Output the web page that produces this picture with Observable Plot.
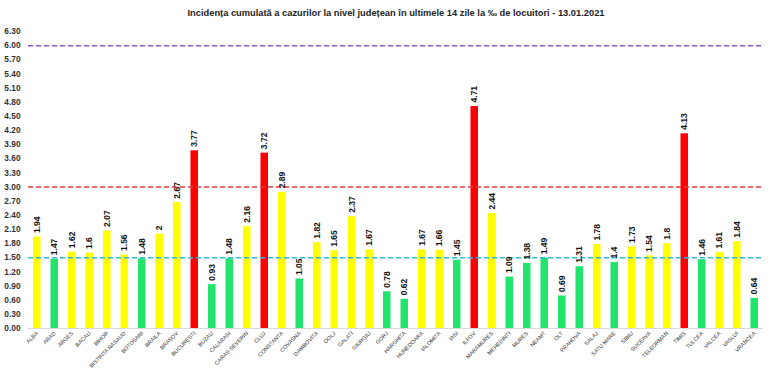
<!DOCTYPE html>
<html><head><meta charset="utf-8">
<script src="https://cdn.jsdelivr.net/npm/d3@7"></script>
<script src="https://cdn.jsdelivr.net/npm/@observablehq/plot@0.6"></script>
<style>
body{margin:0;background:#fff;font-family:"Liberation Sans",Arial,sans-serif;}
#title{height:22px;line-height:26px;text-align:center;font-size:9.3px;font-weight:bold;color:#222;padding-left:22px;white-space:nowrap}
</style></head><body>
<div id="title">Incidența cumulată a cazurilor la nivel județean în ultimele 14 zile la ‰ de locuitori - 13.01.2021</div>
<div id="chart"></div>
<script>
const counties = ["ALBA","ARAD","ARGES","BACAU","BIHOR","BISTRITA NASAUD","BOTOSANI","BRAILA","BRASOV","BUCURESTI","BUZAU","CALARASI","CARAS-SEVERIN","CLUJ","CONSTANTA","COVASNA","DAMBOVITA","DOLJ","GALATI","GIURGIU","GORJ","HARGHITA","HUNEDOARA","IALOMITA","IASI","ILFOV","MARAMURES","MEHEDINTI","MURES","NEAMT","OLT","PRAHOVA","SALAJ","SATU MARE","SIBIU","SUCEAVA","TELEORMAN","TIMIS","TULCEA","VALCEA","VASLUI","VRANCEA"];
const values = [1.94,1.47,1.62,1.6,2.07,1.56,1.48,2,2.67,3.77,0.93,1.48,2.16,3.72,2.89,1.05,1.82,1.65,2.37,1.67,0.78,0.62,1.67,1.66,1.45,4.71,2.44,1.09,1.38,1.49,0.69,1.31,1.78,1.4,1.73,1.54,1.8,4.13,1.46,1.61,1.84,0.64];
const refValues = [1.5, 3, 6];
const refColors = ["#38b6d6", "#e23a3f", "#8b55cc"];
const yTicks = [0,0.3,0.6,0.9,1.2,1.5,1.8,2.1,2.4,2.7,3.0,3.3,3.6,3.9,4.2,4.5,4.8,5.1,5.4,5.7,6.0,6.3];

const data = counties.map((c, i) => ({county: c, value: values[i]}));
const refs = refValues.map((v, i) => ({value: v, color: refColors[i]}));
const barColor = v => v > 3 ? "#ff0000" : v >= 1.5 ? "#ffff00" : "#22e36b";

const chart = Plot.plot({
  width: 770, height: 350,
  marginTop: 9, marginBottom: 44, marginLeft: 28, marginRight: 7,
  style: {fontFamily: "Liberation Sans, Arial, sans-serif", background: "#fff"},
  x: {domain: counties, paddingInner: 0.57, paddingOuter: 0.285, round: false, label: null},
  y: {domain: [0, 6.3], label: null},
  marks: [
    Plot.ruleY([0], {stroke: "#d9d9d9"}),
    Plot.barY(data, {x: "county", y: "value", fill: d => barColor(d.value)}),
    Plot.ruleY(refs, {y: "value", stroke: "color", strokeWidth: 1.5, strokeDasharray: "5,3"}),
    Plot.text(data, {x: "county", y: "value", text: d => String(d.value), rotate: -90, textAnchor: "start", dy: -4, fontSize: 8.5, fontWeight: "bold", fill: "#111"}),
    Plot.axisY({ticks: yTicks, tickFormat: d => d.toFixed(2), tickSize: 0, tickPadding: 8, fontSize: 8.3, fontWeight: "bold", fill: "#333", label: null}),
    Plot.axisX({tickRotate: -45, tickSize: 0, tickPadding: 4, fontSize: 5.5, fill: "#333", label: null})
  ]
});
document.getElementById("chart").appendChild(chart);
</script>
</body></html>
